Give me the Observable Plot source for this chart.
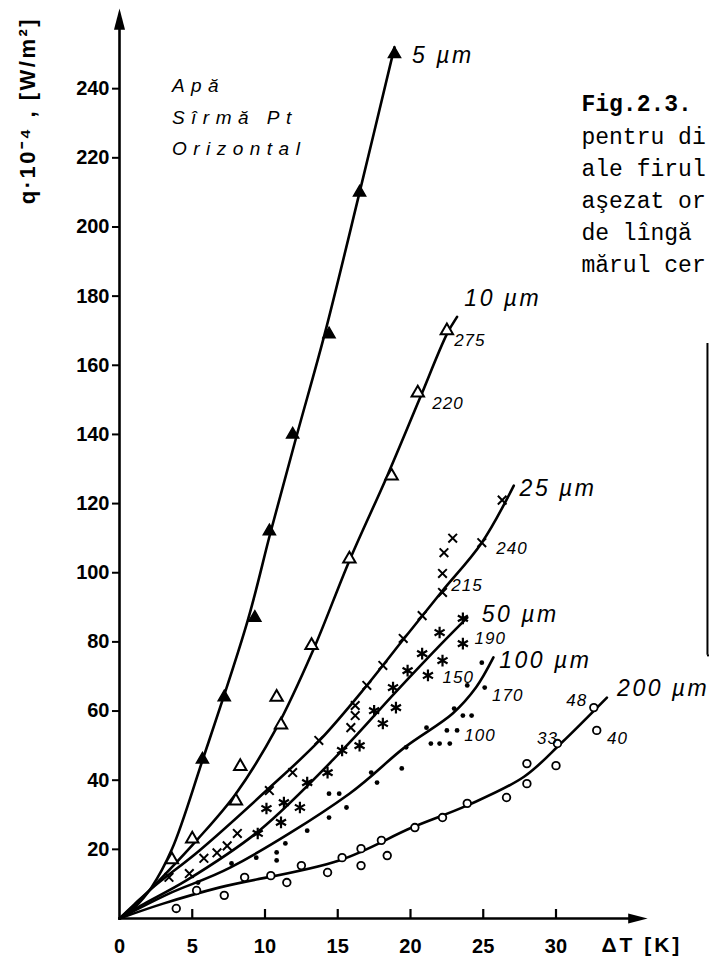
<!DOCTYPE html>
<html><head><meta charset="utf-8">
<script src="https://cdn.jsdelivr.net/npm/d3@7"></script>
<script src="https://cdn.jsdelivr.net/npm/@observablehq/plot@0.6"></script>
<style>
html,body{margin:0;padding:0;background:#fff;}
#chart svg{display:block;}
</style></head><body><div id="chart"></div>
<script>
// ---- axes ----
const xTicks = [5, 10, 15, 20, 25, 30];
const xTickLabels = [0, 5, 10, 15, 20, 25, 30];
const yTicks = [20, 40, 60, 80, 100, 120, 140, 160, 180, 200, 220, 240];
const xAxisEnd = 36.3, yAxisEnd = 263.2;
const xTitle = "ΔT [K]";
const yTitle = "q·10⁻⁴ , [W/m²]";

// ---- fitted curves (ΔT, q·10^-4) ----
const series = ["5 µm", "10 µm", "25 µm", "50 µm", "100 µm", "200 µm"];
const fit5 = [[0,0],[1,3],[2.2,9],[3.6,20],[5.7,45.7],[8.8,86],[10.4,112],[12.2,140],[14.1,169],[16.5,210],[18.9,252]];
const fit10 = [[0,0],[1.2,4.5],[2.5,10],[5.3,22.6],[8.0,36.1],[10.8,55.2],[13.3,77.5],[15.8,103.5],[18.4,128],[20.6,150],[22.5,169],[23.2,174]];
const fit25 = [[0,0],[1,4],[2.3,9],[5.5,19.7],[10.1,37],[13.75,51.5],[17.0,67.4],[19.45,80.4],[22.1,94.3],[24.9,108.7],[27.1,125.2]];
const fit50 = [[0,0],[1.5,3.8],[4.6,11],[9.6,25.4],[15.3,48.6],[18.9,65.1],[22.0,78.9],[23.9,87]];
const fit100 = [[0,0],[3.4,7.2],[7.6,14.7],[15.8,36.1],[19.6,49.5],[22.9,59.3],[24.5,66.8],[25.7,75.5]];
const fit200 = [[0,0],[3.0,4.3],[6.9,9],[15.1,16.8],[20.1,26.3],[23.9,32.7],[27.8,41],[30.4,50.9],[33.5,63.9]];

// ---- measured points ----
const pts5 = [[5.7,46],[7.2,64],[9.3,87],[10.3,112],[11.9,140],[14.4,169],[16.5,210],[18.9,250]];
const pts10 = [[3.6,17],[5.0,23],[8.0,34],[8.3,44],[10.8,64],[11.1,56],[13.2,79],[15.8,104],[18.7,128],[20.5,152],[22.5,170]];
const pts25 = [[3.4,11.9],[4.8,13],[5.8,17.4],[6.7,19],[7.4,21],[8.1,24.6],[10.3,37],[11.9,42.2],[13.7,51.5],[15.9,55.2],[16.2,58.7],[16.2,61.6],[17.0,67.4],[18.1,73.2],[19.5,81],[20.8,87.6],[22.2,94.3],[22.2,99.8],[22.3,105.8],[22.9,110],[24.9,108.7],[26.3,121]];
const pts50 = [[9.5,24.6],[10.1,31.8],[11.1,27.8],[11.3,33.5],[12.4,32.1],[12.9,39.3],[14.3,42.2],[15.3,48.6],[16.5,50],[17.5,60.1],[18.1,56.4],[18.8,66.8],[19.0,61],[19.8,71.7],[20.8,76.6],[21.2,70.3],[22.0,82.7],[22.2,74.6],[23.6,79.5],[23.6,86.8]];
const pts100 = [[5.4,10.4],[7.7,15.9],[9.4,17.6],[10.8,16.8],[10.8,19.1],[11.4,21.7],[12.9,25.4],[14.4,29.2],[14.4,36.1],[15.1,36.1],[15.6,32.1],[17.3,42.2],[17.7,39.3],[19.4,43.4],[19.7,49.5],[21.1,55.2],[21.4,50.6],[22.0,50.6],[22.7,50.6],[22.5,54.4],[23.2,54.4],[23.0,60.7],[23.6,58.7],[24.2,58.7],[23.9,67.4],[25.1,66.8],[24.9,74]];
const pts200 = [[3.9,2.9],[5.3,8.1],[7.2,6.7],[8.6,11.9],[10.4,12.4],[11.5,10.4],[12.5,15.3],[14.3,13.3],[15.3,17.6],[16.6,20.2],[16.6,15.3],[18.0,22.6],[18.4,18.2],[20.3,26.3],[22.2,29.2],[23.9,33.3],[26.6,35],[28.0,44.8],[28.0,39],[30.0,44.2],[30.1,50.6],[32.6,61],[32.8,54.4]];

// ---- labels ----
const seriesLabelAt = [[20.1,249.6],[23.7,179.3],[27.5,124.3],[24.9,87.9],[26.1,74.6],[34.2,66.5]];
const pointNotes = ["275","220","240","215","190","150","170","100","48","40","33"];
const pointNoteAt = [[23.0,167.2],[21.5,148.9],[25.9,107],[22.8,96.3],[24.4,81],[22.2,69.7],[25.6,64.5],[23.7,52.9],[30.7,63],[33.5,52],[28.7,52]];
const noteLines = ["Apă", "Sîrmă Pt", "Orizontal"];
const noteX = 3.6, noteY = [240.9, 231.6, 222.7];
const captionTitle = "Fig.2.3.";
const captionLines = ["pentru di", "ale firul", "aşezat or", "de lîngă", "mărul cer"];
const captionX = 31.75, captionTitleY = 235.7;
const captionY = [226.1, 216.9, 207.6, 198.4, 189.2];
const boxEdgeX = 40.41, boxEdgeY = [76.1, 166.3];

// ---- build ----
const fits = [fit5, fit10, fit25, fit50, fit100, fit200];
const lineRows = fits.flatMap((f, i) => f.map(([x, y]) => ({series: series[i], x, y})));
const toRows = a => a.map(([x, y]) => ({x, y}));

const arrowHead = {draw(ctx, size) { const s = Math.sqrt(size); ctx.moveTo(0, 0); ctx.lineTo(-s * 0.26, s); ctx.lineTo(s * 0.26, s); ctx.closePath(); }};
const mono = "'Liberation Mono', 'DejaVu Sans Mono', monospace";

const W = 709, H = 957;
const chart = Plot.plot({
  width: W, height: H,
  marginLeft: 119, marginRight: 0, marginTop: 0, marginBottom: 39,
  x: {domain: [0, 40.55], axis: null},
  y: {domain: [0, 265.5], axis: null},
  style: {fontFamily: "'Liberation Sans', Arial, sans-serif", background: "white", color: "black"},
  marks: [
    // axes
    Plot.ruleX([0], {y1: 0, y2: yAxisEnd - 3, strokeWidth: 2.6}),
    Plot.ruleY([0], {x1: 0, x2: xAxisEnd - 0.8, strokeWidth: 2.6}),
    Plot.dot([{x: 0, y: yAxisEnd}], {x: "x", y: "y", symbol: arrowHead, r: 12, fill: "black", stroke: "none"}),
    Plot.dot([{x: xAxisEnd, y: 0}], {x: "x", y: "y", symbol: arrowHead, r: 11, fill: "black", stroke: "none", rotate: 90}),
    Plot.ruleX(xTicks, {x: d => d, y1: 0, y2: 2.6, strokeWidth: 2.2}),
    Plot.axisX(xTickLabels, {tickSize: 0, tickPadding: 20, fontSize: 20, fontWeight: "bold", label: null}),
    Plot.axisY(yTicks, {tickSize: 7, tickPadding: 3, fontSize: 20, fontWeight: "bold", label: null, strokeWidth: 2}),
    Plot.text([xTitle], {x: 35.9, y: -7.8, fontSize: 21, fontWeight: "bold", ariaDescription: "spaced3"}),
    Plot.text([yTitle], {frameAnchor: "top-left", dx: -92, dy: 110, rotate: -90, textAnchor: "middle", lineAnchor: "middle", fontSize: 22, fontWeight: "bold", ariaDescription: "spaced2"}),
    // curves
    Plot.line(lineRows, {x: "x", y: "y", z: "series", curve: "catmull-rom", stroke: "black", strokeWidth: 2.6}),
    // measured points
    Plot.dot(toRows(pts5), {x: "x", y: "y", symbol: "triangle", r: 4.5, fill: "black", stroke: "black"}),
    Plot.dot(toRows(pts10), {x: "x", y: "y", symbol: "triangle", r: 4.6, fill: "white", stroke: "black", strokeWidth: 2}),
    Plot.dot(toRows(pts25), {x: "x", y: "y", symbol: "times", r: 4, stroke: "black", strokeWidth: 2}),
    Plot.dot(toRows(pts50), {x: "x", y: "y", symbol: "asterisk", r: 5.5, stroke: "black", strokeWidth: 2.2}),
    Plot.dot(toRows(pts100), {x: "x", y: "y", symbol: "circle", r: 2.4, fill: "black", stroke: "none"}),
    Plot.dot(toRows(pts200), {x: "x", y: "y", symbol: "circle", r: 3.8, fill: "white", stroke: "black", strokeWidth: 1.8}),
    // labels
    Plot.text(series, {x: (d, i) => seriesLabelAt[i][0], y: (d, i) => seriesLabelAt[i][1], text: d => d, textAnchor: "start", fontSize: 23, fontStyle: "italic", ariaDescription: "spaced2"}),
    Plot.text(pointNotes, {x: (d, i) => pointNoteAt[i][0], y: (d, i) => pointNoteAt[i][1], text: d => d, textAnchor: "start", fontSize: 17, fontStyle: "italic", ariaDescription: "spaced1"}),
    Plot.text(noteLines, {x: noteX, y: (d, i) => noteY[i], text: d => d, textAnchor: "start", fontSize: 19, fontStyle: "italic", ariaDescription: "spaced6"}),
    Plot.text([captionTitle], {x: captionX, y: captionTitleY, textAnchor: "start", fontSize: 23, fontWeight: "bold", fontFamily: mono}),
    Plot.text(captionLines, {x: captionX, y: (d, i) => captionY[i], text: d => d, textAnchor: "start", fontSize: 23, fontFamily: mono}),
    // cut-off box edge at the right
    Plot.ruleX([boxEdgeX], {y1: boxEdgeY[0], y2: boxEdgeY[1], strokeWidth: 2}),
    Plot.ruleY([boxEdgeY[0]], {x1: boxEdgeX, x2: 40.55, strokeWidth: 2})
  ]
});
const svg = d3.select(chart);
[["spaced1", 1], ["spaced2", 2.5], ["spaced3", 3], ["spaced6", 6.5]].forEach(([k, v]) => {
  svg.selectAll(`g[aria-description="${k}"] text`).style("letter-spacing", v + "px");
});
document.getElementById("chart").appendChild(chart);
</script>
</body></html>
